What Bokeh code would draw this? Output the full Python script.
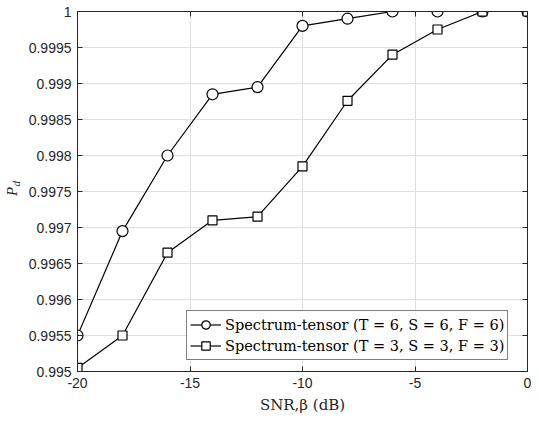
import numpy as np
from bokeh.plotting import figure
from bokeh.layouts import row
from bokeh.models import Range1d, FixedTicker, LinearAxis, Legend, LegendItem
from bokeh.core.properties import value
from bokeh.embed import file_html
from bokeh.resources import INLINE

snr = [-20, -18, -16, -14, -12, -10, -8, -6, -4, -2, 0]
pd_666 = [0.99550, 0.99695, 0.99800, 0.99885, 0.99895, 0.99980, 0.99990, 1.0, 1.0, 1.0, 1.0]
pd_333 = [0.99505, 0.99550, 0.99665, 0.99710, 0.99715, 0.99785, 0.99876, 0.99940, 0.99975, 1.0, 1.0]
x_ticks = [-20, -15, -10, -5, 0]
x_tick_labels = ["-20", "-15", "-10", "-5", "0"]
y_ticks = [0.995, 0.9955, 0.996, 0.9965, 0.997, 0.9975, 0.998, 0.9985, 0.999, 0.9995, 1.0]
y_tick_labels = ["0.995", "0.9955", "0.996", "0.9965", "0.997", "0.9975", "0.998",
                 "0.9985", "0.999", "0.9995", "1"]
legend_labels = ["Spectrum-tensor (T = 6, S = 6, F = 6)",
                 "Spectrum-tensor (T = 3, S = 3, F = 3)"]
x_label = "SNR,β (dB)"
y_label_main = "P"
y_label_sub = "d"

AX = "#262626"
GRID = "#dfdfdf"
TICKFONT = "Liberation Sans"
SERIF = "DejaVu Serif"
H = 416
LABW = 24

# narrow strip holding the rotated y-axis label P_d
lab = figure(width=LABW, height=H, output_backend="svg", toolbar_location=None,
             x_range=Range1d(0, LABW), y_range=Range1d(0, H),
             min_border=0, x_axis_location=None, y_axis_location=None)
lab.outline_line_color = None
lab.xgrid.visible = False
lab.ygrid.visible = False
lab.text(x=[11], y=[H - 208], text=[y_label_main], angle=np.pi / 2,
         text_font=value("Liberation Serif"), text_font_style="italic",
         text_font_size="15px", text_color=AX, text_align="center", text_baseline="middle")
lab.text(x=[15.5], y=[H - 199], text=[y_label_sub], angle=np.pi / 2,
         text_font=value("Liberation Serif"), text_font_style="italic",
         text_font_size="11px", text_color=AX, text_align="center", text_baseline="middle")

p = figure(width=531 - LABW, height=H, output_backend="svg", toolbar_location=None,
           x_range=Range1d(-20, 0), y_range=Range1d(0.995, 1.0),
           min_border_left=77 - LABW, min_border_right=4, min_border_top=11, min_border_bottom=44)
p.outline_line_color = AX
p.outline_line_width = 1
p.background_fill_color = "white"
p.border_fill_color = "white"

p.xaxis.ticker = FixedTicker(ticks=x_ticks)
p.yaxis.ticker = FixedTicker(ticks=y_ticks)
p.xaxis.major_label_overrides = {t: l for t, l in zip(x_ticks, x_tick_labels)}
p.yaxis.major_label_overrides = {t: l for t, l in zip(y_ticks, y_tick_labels)}

for ax in (p.xaxis[0], p.yaxis[0]):
    ax.axis_line_color = AX
    ax.major_tick_line_color = AX
    ax.major_tick_in = 5
    ax.major_tick_out = 0
    ax.minor_tick_line_color = None
    ax.major_label_text_font = TICKFONT
    ax.major_label_text_font_size = "14px"
    ax.major_label_text_color = AX
    ax.major_label_standoff = 6

p.xaxis.axis_label = x_label
p.xaxis.axis_label_text_font = SERIF
p.xaxis.axis_label_text_font_style = "normal"
p.xaxis.axis_label_text_font_size = "15px"
p.xaxis.axis_label_text_color = AX
p.xaxis.axis_label_standoff = 5

top = LinearAxis(ticker=FixedTicker(ticks=x_ticks), major_label_text_alpha=0,
                 major_tick_in=5, major_tick_out=0, minor_tick_line_color=None,
                 axis_line_color=AX, major_tick_line_color=AX,
                 major_label_text_font_size="1px", major_label_standoff=0)
right = LinearAxis(ticker=FixedTicker(ticks=y_ticks), major_label_text_alpha=0,
                   major_tick_in=5, major_tick_out=0, minor_tick_line_color=None,
                   axis_line_color=AX, major_tick_line_color=AX,
                   major_label_text_font_size="1px", major_label_standoff=0)
p.add_layout(top, "above")
p.add_layout(right, "right")

p.xgrid.grid_line_color = GRID
p.ygrid.grid_line_color = GRID

l1 = p.line(snr, pd_666, line_color="black", line_width=1.2)
m1 = p.scatter(snr, pd_666, marker="circle", size=11, fill_color="white",
               line_color="black", line_width=1.2)
l2 = p.line(snr, pd_333, line_color="black", line_width=1.2)
m2 = p.scatter(snr, pd_333, marker="square", size=9, fill_color="white",
               line_color="black", line_width=1.2)

legend = Legend(items=[LegendItem(label=legend_labels[0], renderers=[l1, m1]),
                       LegendItem(label=legend_labels[1], renderers=[l2, m2])],
                location=(109, 11), orientation="vertical")
legend.border_line_color = "black"
legend.border_line_width = 1
legend.background_fill_color = "white"
legend.background_fill_alpha = 1
legend.padding = 3
legend.spacing = 0
legend.margin = 0
legend.label_height = 21
legend.glyph_height = 21
legend.glyph_width = 31
legend.label_standoff = 4
legend.label_text_font = SERIF
legend.label_text_font_size = "14.5px"
legend.label_text_color = "black"
p.add_layout(legend, "center")

layout = row(lab, p, spacing=0)
open("out.html", "w").write(file_html(layout, INLINE))
